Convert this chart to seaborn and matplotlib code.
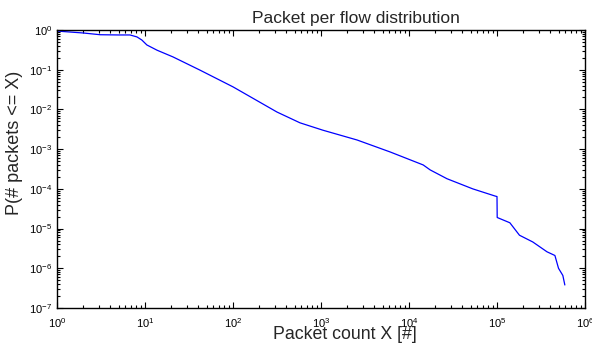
import matplotlib
matplotlib.use("Agg")
import matplotlib.pyplot as plt
import seaborn as sns
import pandas as pd
import numpy as np
from matplotlib.ticker import LogLocator

pkt_count = [1, 2, 3.1, 5, 6.75, 8.1, 9.2, 10.5, 13.7, 20.8, 42, 100, 316, 577,
             1050, 2570, 6100, 14500, 17400, 27000, 53000, 95000, 100000, 100500,
             140000, 180000, 255000, 370000, 455000, 500000, 560000, 590000]
prob = [0.94, 0.84, 0.76, 0.75, 0.75, 0.67, 0.56, 0.42, 0.31, 0.21, 0.098, 0.037,
        0.0086, 0.0046, 0.003, 0.0017, 0.00085, 0.0004, 0.0003, 0.00018, 0.0001,
        6.6e-5, 6.4e-5, 1.9e-5, 1.4e-5, 6.8e-6, 4.6e-6, 2.6e-6, 2.1e-6, 1.0e-6,
        6.6e-7, 3.8e-7]

title = "Packet per flow distribution"
xlabel = "Packet count X [#]"
ylabel = "P(# packets <= X)"

sns.set_style("ticks")
plt.rcParams['font.family'] = ['Liberation Sans', 'DejaVu Sans']
plt.rcParams['mathtext.fontset'] = 'custom'
plt.rcParams['mathtext.rm'] = 'Liberation Sans'

df = pd.DataFrame({"x": pkt_count, "y": prob})

fig = plt.figure(figsize=(5.92, 3.52), dpi=100)
ax = fig.add_axes([57/592, 1 - 308/352, (585 - 57)/592, (308 - 30)/352])
sns.lineplot(data=df, x="x", y="y", ax=ax, color=(0, 0, 1), linewidth=0.9)
ax.set_xscale("log")
ax.set_yscale("log")
ax.set_xlim(1, 1e6)
ax.set_ylim(1e-7, 1)
ax.xaxis.set_major_locator(LogLocator(base=10, numticks=20))
ax.yaxis.set_major_locator(LogLocator(base=10, numticks=20))
ax.xaxis.set_minor_locator(LogLocator(base=10, subs=np.arange(2, 10), numticks=100))
ax.yaxis.set_minor_locator(LogLocator(base=10, subs=np.arange(2, 10), numticks=100))
ax.tick_params(which="both", direction="in", top=True, right=True, width=0.8,
               labelsize=8, colors="black")
ax.tick_params(which="major", length=4)
ax.tick_params(which="minor", length=2)
ax.tick_params(axis="x", which="major", pad=6)
for s in ax.spines.values():
    s.set_visible(True)
    s.set_linewidth(1.0)
    s.set_color("black")
ax.set_title(title, fontsize=12.5, x=(356 - 57) / 528, pad=5)
ax.set_xlabel(xlabel, fontsize=12.8)
ax.xaxis.set_label_coords((345 - 57) / 528, -(326 - 308) / 278)
ax.set_ylabel(ylabel, fontsize=13)
ax.yaxis.set_label_coords(-(57 - 23) / 528, (308 - 143) / 278)
fig.savefig("out.png", dpi=100)
